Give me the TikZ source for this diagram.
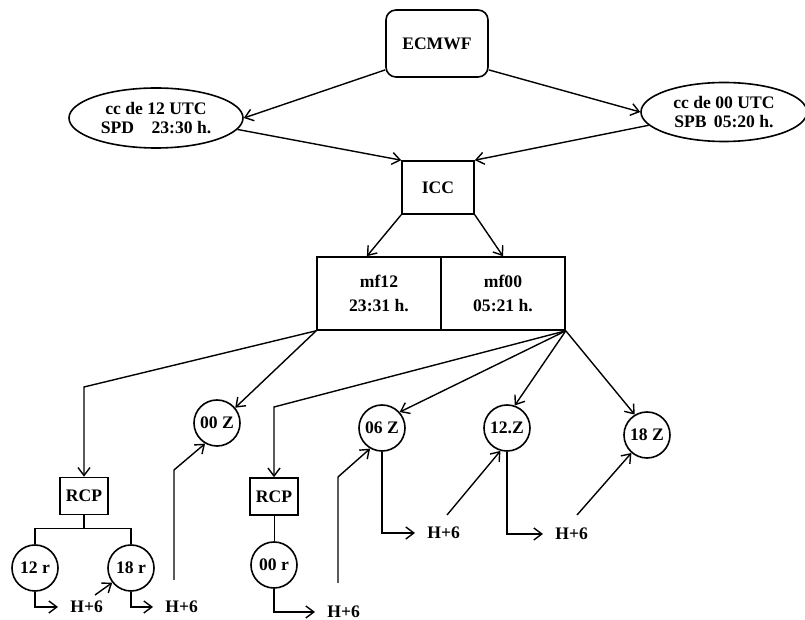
\documentclass[tikz,border=0pt]{standalone}
\usepackage{fontspec}
\setmainfont{Liberation Serif}
\usetikzlibrary{shapes.geometric,arrows.meta}
\begin{document}
\begin{tikzpicture}[x=0.5pt,y=-0.5pt,
  every node/.style={font=\fontsize{8.8}{9.6}\selectfont\bfseries},
  line/.style={line width=0.7pt},
  arr/.style={line width=0.7pt,-{Straight Barb[length=4pt,width=6pt]}},
  circ/.style={circle,draw,line width=0.8pt,minimum size=23pt,inner sep=0pt},
  oval/.style={ellipse,draw,line width=0.8pt,inner sep=0pt,align=center},
  mfbox/.style={draw,line width=0.8pt,minimum width=62pt,minimum height=36.5pt,inner sep=0pt,align=center},
  rcpbox/.style={draw,line width=0.8pt,minimum width=24pt,minimum height=18.5pt,inner sep=0pt},
  hsix/.style={anchor=west,inner xsep=6pt,inner ysep=0pt}]
  \useasboundingbox (0,0) rectangle (805,620);

  % top part
  \node[draw,rounded corners=5pt,line width=0.8pt,minimum width=51pt,minimum height=33.5pt] (ecmwf) at (437,43.5) {ECMWF};
  \node[oval,minimum width=87pt,minimum height=30pt] (cc12) at (156,118) {cc de 12 UTC\\SPD\quad 23:30 h.};
  \node[oval,minimum width=83pt,minimum height=29.5pt] (cc00) at (724,112) {cc de 00 UTC\\SPB\, 05:20 h.};
  \node[draw,line width=0.8pt,minimum width=36pt,minimum height=26.5pt] (icc) at (438,187.5) {ICC};
  \node[mfbox] (mf12) at (379,293.5) {mf12\\[2pt]23:31 h.};
  \node[mfbox] (mf00) at (503,293.5) {mf00\\[2pt]05:21 h.};

  \draw[arr] (ecmwf.207) -- (cc12.east);
  \draw[arr] (ecmwf.-27) -- (cc00.west);
  \draw[arr] (cc12.-8) -- (icc.north west);
  \draw[arr] (cc00.190) -- (icc.north east);
  \draw[arr] (icc.south west) -- (mf12.108);
  \draw[arr] (icc.south east) -- (mf00.north);

  % runs
  \node[circ] (z00) at (217,423) {00 Z};
  \node[circ] (z06) at (382,428) {06 Z};
  \node[circ] (z12) at (507,428) {12.Z};
  \node[circ] (z18) at (647,435) {18 Z};
  \node[rcpbox] (rcp1) at (84,496) {RCP};
  \node[rcpbox] (rcp2) at (274,496.5) {RCP};
  \node[circ] (r12) at (35,568) {12 r};
  \node[circ] (r18) at (131,568) {18 r};
  \node[circ] (r00) at (274,565) {00 r};

  % H+6 outputs
  \node[hsix] (h1) at (58,607) {H+6};
  \node[hsix] (h2) at (153,607) {H+6};
  \node[hsix] (h3) at (315,612) {H+6};
  \node[hsix] (h4) at (415,533) {H+6};
  \node[hsix] (h5) at (543,534) {H+6};

  \coordinate (k1) at (84,387);
  \coordinate (k2) at (274,407);
  \coordinate (f1) at (95,595);
  \coordinate (f2) at (174,580);
  \coordinate (f3) at (338,583);
  \coordinate (f4) at (447,515);
  \coordinate (f5) at (577,515);

  \draw[arr] (mf12.south west) -- (k1) -- (rcp1.north);
  \draw[arr] (mf12.south west) -- (z00.40);
  \draw[arr] (mf00.south east) -- (k2) -- (rcp2.north);
  \draw[arr] (mf00.south east) -- (z06.42);
  \draw[arr] (mf00.south east) -- (z12.71);
  \draw[arr] (mf00.south east) -- (z18.121);

  \draw[line] (rcp1.south) -- ++(0,13) -| (r12.north);
  \draw[line] (rcp1.south) -- ++(0,13) -| (r18.north);
  \draw[thin] (rcp2.south) -- (r00.north);

  \draw[arr] (r12.south) |- (h1.west);
  \draw[arr] (r18.south) |- (h2.west);
  \draw[arr] (r00.south) |- (h3.west);
  \draw[arr] (z06.south) |- (h4.west);
  \draw[arr] (z12.south) |- (h5.west);

  % inputs from the previous run
  \draw[arr] (f1) -- (r18.218);
  \draw[arr] (f2) -- ++(0,-110) -- (z00.240);
  \draw[arr] (f3) -- ++(0,-106) -- (z06.240);
  \draw[arr] (f4) -- (z12.254);
  \draw[arr] (f5) -- (z18.229);
\end{tikzpicture}
\end{document}
